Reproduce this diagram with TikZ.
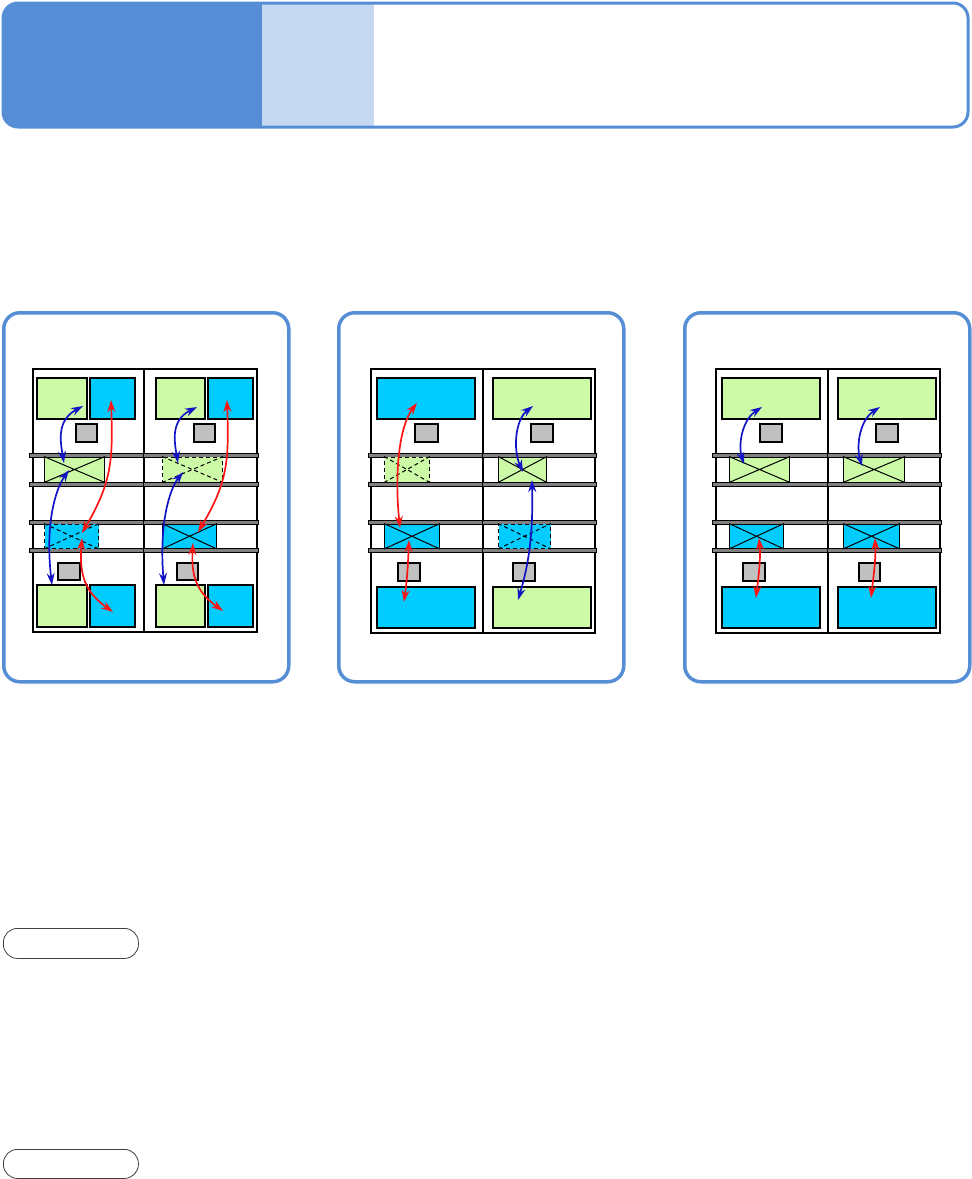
\documentclass[tikz,border=0pt]{standalone}
\usetikzlibrary{arrows.meta,calc}
\definecolor{hdark}{HTML}{558ED5}
\definecolor{hlight}{HTML}{C6D9F1}
\definecolor{gfill}{HTML}{CCFAA6}
\definecolor{cfill}{HTML}{00CCFF}
\definecolor{sgray}{HTML}{C0C0C0}
\definecolor{bargray}{HTML}{808080}
\definecolor{ablue}{HTML}{1414C4}
\definecolor{ared}{HTML}{FF1414}
\tikzset{
  panel/.style={draw=hdark, line width=3.5pt, rounded corners=16pt, inner sep=0pt},
  frame/.style={draw=black, line width=1.8pt, inner sep=0pt},
  gbox/.style={draw=black, fill=gfill, line width=2.3pt, inner sep=0pt},
  cbox/.style={draw=black, fill=cfill, line width=2.3pt, inner sep=0pt},
  sbox/.style={draw=black, fill=sgray, line width=2.3pt, inner sep=0pt},
  bar/.style={draw=black, fill=bargray, line width=0.9pt, inner sep=0pt},
  xg/.style={draw=black, fill=gfill, line width=1pt, inner sep=0pt},
  xc/.style={draw=black, fill=cfill, line width=1pt, inner sep=0pt},
  dsh/.style={dash pattern=on 4pt off 3pt},
  pill/.style={draw=black!75, line width=0.8pt, rounded corners=14pt, inner sep=0pt},
  crossline/.style={draw=black, line width=1pt},
  barrow/.style={draw=ablue, line width=1.7pt, {Stealth[length=12pt,width=8pt]}-{Stealth[length=12pt,width=8pt]}},
  rarrow/.style={draw=ared, line width=1.7pt, {Stealth[length=12pt,width=8pt]}-{Stealth[length=12pt,width=8pt]}},
}
\newcommand\bx[6]{%
  \pgfmathsetmacro\bxw{#5-#3}\pgfmathsetmacro\bxh{#6-#4}%
  \node[#1, minimum width=\bxw pt, minimum height=\bxh pt, anchor=north west] (#2) at (#3,#4) {};}
\newcommand\xcross[2]{%
  \draw[crossline,#2] (#1.north west) -- (#1.south east) (#1.south west) -- (#1.north east);}
\newcommand\barrow[3]{% name, x1, x2 for four bars
  \bx{bar}{#1a}{#2}{452.5}{#3}{456.5}
  \bx{bar}{#1b}{#2}{481.5}{#3}{485.5}
  \bx{bar}{#1c}{#2}{519.5}{#3}{523.5}
  \bx{bar}{#1d}{#2}{548}{#3}{552}}
\begin{document}
\begin{tikzpicture}[x=1pt,y=-1pt]
\useasboundingbox (0,0) rectangle (972,1179);
% header
\begin{scope}
\clip[rounded corners=15pt] (3,3) rectangle (968,127);
\fill[hdark] (0,0) rectangle (262,130);
\fill[hlight] (262,0) rectangle (374,130);
\end{scope}
\draw[hdark, line width=3pt, rounded corners=15pt] (3,3) rectangle (968,127);
% panels
\bx{panel}{p1}{2}{311}{287}{680}
\bx{panel}{p2}{337}{311}{622}{680}
\bx{panel}{p3}{683}{311}{968}{680}
% ---------------- panel 1
\bx{frame}{f1l}{32}{368}{143}{631}
\bx{frame}{f1r}{143}{368}{256}{631}
\bx{gbox}{t1lg}{36}{377}{86}{418}
\bx{cbox}{t1lc}{89}{377}{134}{418}
\bx{gbox}{t1rg}{155}{377}{204}{418}
\bx{cbox}{t1rc}{207}{377}{252}{418}
\bx{sbox}{s1lt}{75}{423}{96}{441}
\bx{sbox}{s1rt}{193}{423}{214}{441}
\bx{sbox}{s1lb}{57}{562}{79}{579}
\bx{sbox}{s1rb}{176}{562}{197}{579}
\bx{gbox}{b1lg}{36}{584}{86}{626}
\bx{cbox}{b1lc}{89}{584}{134}{626}
\bx{gbox}{b1rg}{155}{584}{204}{626}
\bx{cbox}{b1rc}{207}{584}{252}{626}
\barrow{r1l}{29}{143}
\barrow{r1r}{143}{258}
\bx{xg}{x1lg}{44}{456.5}{104}{481.5}\xcross{x1lg}{}
\bx{xg,dsh}{x1rg}{162}{456.5}{222}{481.5}\xcross{x1rg}{dsh}
\bx{xc,dsh}{x1lc}{44}{523.5}{98}{548}\xcross{x1lc}{dsh}
\bx{xc}{x1rc}{162}{523.5}{216}{548}\xcross{x1rc}{}
% ---------------- panel 2
\bx{frame}{f2l}{370}{368}{482}{632}
\bx{frame}{f2r}{482}{368}{594}{632}
\bx{cbox}{t2l}{376}{377}{474}{418}
\bx{gbox}{t2r}{492}{377}{590}{418}
\bx{sbox}{s2lt}{414}{423}{437}{441}
\bx{sbox}{s2rt}{530}{423}{552}{441}
\bx{sbox}{s2lb}{397}{562}{419}{580}
\bx{sbox}{s2rb}{512}{562}{534}{580}
\bx{cbox}{b2l}{376}{586}{474}{627}
\bx{gbox}{b2r}{492}{586}{590}{627}
\barrow{r2l}{368}{482}
\barrow{r2r}{482}{596}
\bx{xg,dsh}{x2lg}{384}{456.5}{429}{481.5}\xcross{x2lg}{dsh}
\bx{xg}{x2rg}{498}{456.5}{546}{481.5}\xcross{x2rg}{}
\bx{xc}{x2lc}{384}{523.5}{439}{548}\xcross{x2lc}{}
\bx{xc,dsh}{x2rc}{498}{523.5}{550}{548}\xcross{x2rc}{dsh}
% ---------------- panel 3
\bx{frame}{f3l}{715}{368}{827}{632}
\bx{frame}{f3r}{827}{368}{939}{632}
\bx{gbox}{t3l}{721}{377}{819}{418}
\bx{gbox}{t3r}{837}{377}{935}{418}
\bx{sbox}{s3lt}{759}{423}{781}{441}
\bx{sbox}{s3rt}{875}{423}{897}{441}
\bx{sbox}{s3lb}{742}{562}{764}{580}
\bx{sbox}{s3rb}{858}{562}{879}{580}
\bx{cbox}{b3l}{721}{586}{819}{627}
\bx{cbox}{b3r}{837}{586}{935}{627}
\barrow{r3l}{712}{827}
\barrow{r3r}{827}{941}
\bx{xg}{x3lg}{729}{456.5}{789}{481.5}\xcross{x3lg}{}
\bx{xg}{x3rg}{843}{456.5}{904}{481.5}\xcross{x3rg}{}
\bx{xc}{x3lc}{729}{523.5}{783}{548}\xcross{x3lc}{}
\bx{xc}{x3rc}{843}{523.5}{899}{548}\xcross{x3rc}{}
% ---------------- arrow end points
\coordinate (a1) at (64,463);  \coordinate (a2) at (83,406);
\coordinate (a3) at (69,470);  \coordinate (a4) at (52,585);
\coordinate (a5) at (111,400); \coordinate (a6) at (82,533);
\coordinate (a7) at (82,538);  \coordinate (a8) at (113,612);
\coordinate (b1) at (178,463); \coordinate (b2) at (197,407);
\coordinate (b3) at (183,472); \coordinate (b4) at (164,585);
\coordinate (b5) at (227,400); \coordinate (b6) at (198,532);
\coordinate (b7) at (193,543); \coordinate (b8) at (223,611);
\coordinate (c1) at (417,403); \coordinate (c2) at (400,528);
\coordinate (c3) at (409,540); \coordinate (c4) at (404,602);
\coordinate (c5) at (533,406); \coordinate (c6) at (523,472);
\coordinate (c7) at (532,480); \coordinate (c8) at (518,600);
\coordinate (d1) at (762,407); \coordinate (d2) at (744,464);
\coordinate (d3) at (880,407); \coordinate (d4) at (862,466);
\coordinate (d5) at (759,538); \coordinate (d6) at (756,598);
\coordinate (d7) at (875,538); \coordinate (d8) at (871,598);
% ---------------- arrows
\draw[barrow] (a1) .. controls (60,440) and (57,420) .. (a2);
\draw[barrow] (a3) .. controls (55,490) and (45,525) .. (a4);
\draw[rarrow] (a5) .. controls (113,460) and (112,482) .. (a6);
\draw[rarrow] (a7) .. controls (79,575) and (85,592) .. (a8);
\draw[barrow] (b1) .. controls (174,440) and (171,420) .. (b2);
\draw[barrow] (b3) .. controls (169,490) and (159,525) .. (b4);
\draw[rarrow] (b5) .. controls (229,460) and (228,482) .. (b6);
\draw[rarrow] (b7) .. controls (191,577) and (197,592) .. (b8);
\draw[rarrow] (c1) .. controls (400,425) and (394,470) .. (c2);
\draw[rarrow] (c3) .. controls (408,565) and (407,580) .. (c4);
\draw[barrow] (c5) .. controls (515,420) and (513,450) .. (c6);
\draw[barrow] (c7) .. controls (533,530) and (530,560) .. (c8);
\draw[barrow] (d1) .. controls (742,420) and (738,445) .. (d2);
\draw[barrow] (d3) .. controls (860,420) and (856,445) .. (d4);
\draw[rarrow] (d5) .. controls (761,560) and (758,580) .. (d6);
\draw[rarrow] (d7) .. controls (876,560) and (873,580) .. (d8);
% ---------------- pills
\bx{pill}{pill1}{3}{928}{138}{958}
\bx{pill}{pill2}{3}{1149}{138}{1178}
\end{tikzpicture}
\end{document}
